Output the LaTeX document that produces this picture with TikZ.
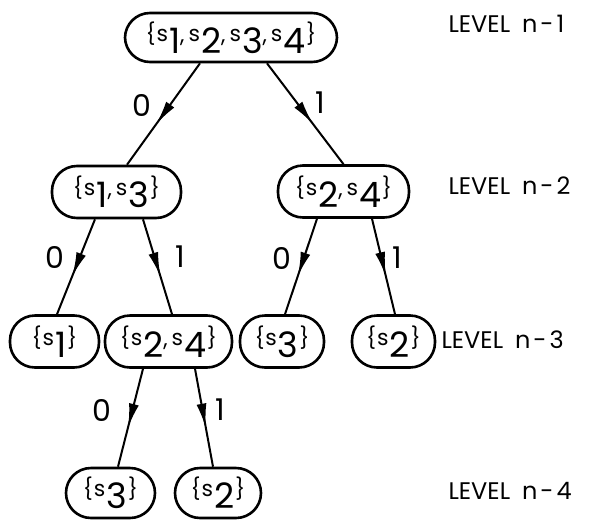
\documentclass[tikz,border=0pt]{standalone}
\usepackage{fontspec}
\setmainfont{Poppins}
\usetikzlibrary{arrows.meta,decorations.markings}
\newcommand\Sv[1]{\raisebox{12pt}{\fontsize{22}{22}\selectfont s}\kern1pt{\fontsize{35}{35}\selectfont #1}}
\newcommand\LB{\raisebox{12pt}{\fontsize{21}{21}\selectfont\{}\kern1pt}
\newcommand\RB{\kern1pt\raisebox{12pt}{\fontsize{21}{21}\selectfont\}}}
\newcommand\Cm{\raisebox{11pt}{\fontsize{22}{22}\selectfont,}\kern4pt}
\newcommand\Lv[1]{LEVEL\hspace{12pt}n\kern3pt-\kern3pt#1}
\begin{document}
\begin{tikzpicture}[x=1pt,y=-1pt,
  pill/.style={draw,line width=2.6pt,rounded corners=25pt,inner sep=0pt,
    minimum height=52pt,text depth=0pt,font=\fontsize{15}{15}\selectfont},
  edge/.style={line width=2pt,postaction={decorate},
    decoration={markings,mark=at position 0.6 with {\arrow{Latex[length=24pt,width=10pt]}}}},
  bit/.style={font=\fontsize{30}{30}\selectfont},
  lvl/.style={font=\fontsize{24}{24}\selectfont,anchor=west}]
\useasboundingbox (0,0) rectangle (592,520);
\node[pill,minimum width=212pt,minimum height=49pt] (r) at (231,37.5) {\LB\Sv{1}\Cm\Sv{2}\Cm\Sv{3}\Cm\Sv{4}\RB};
\node[pill,minimum width=129pt] (a) at (116.5,192) {\LB\Sv{1}\Cm\Sv{3}\RB};
\node[pill,minimum width=131pt] (b) at (343.5,191.5) {\LB\Sv{2}\Cm\Sv{4}\RB};
\node[pill,minimum width=89pt] (c) at (54.5,341.5) {\LB\Sv{1}\RB};
\node[pill,minimum width=127pt] (d) at (168.5,341.5) {\LB\Sv{2}\Cm\Sv{4}\RB};
\node[pill,minimum width=84pt] (e) at (282,341.5) {\LB\Sv{3}\RB};
\node[pill,minimum width=83pt] (f) at (393.5,341.5) {\LB\Sv{2}\RB};
\node[pill,minimum width=89pt,minimum height=50pt] (g) at (110.5,493) {\LB\Sv{3}\RB};
\node[pill,minimum width=86pt,minimum height=50pt] (h) at (218,493) {\LB\Sv{2}\RB};
\draw[edge] ([xshift=-31pt]r.south) -- ([xshift=10.5pt]a.north);
\draw[edge] ([xshift=36pt]r.south) -- (b.north);
\draw[edge] ([xshift=-21.5pt]a.south) -- ([xshift=2.5pt]c.north);
\draw[edge] ([xshift=26.5pt]a.south) -- ([xshift=3.5pt]d.north);
\draw[edge] ([xshift=-26.5pt]b.south) -- ([xshift=3pt]e.north);
\draw[edge] ([xshift=28.5pt]b.south) -- ([xshift=1.5pt]f.north);
\draw[edge] ([xshift=-25.5pt]d.south) -- ([xshift=7.5pt]g.north);
\draw[edge] ([xshift=26.5pt]d.south) -- ([xshift=-5pt]h.north);
\node[bit] (l1) at (142,105) {0};
\node[bit] (l2) at (320,103) {1};
\node[bit] (l3) at (55,257) {0};
\node[bit] (l4) at (180,257) {1};
\node[bit] (l5) at (282,258) {0};
\node[bit] (l6) at (397,258) {1};
\node[bit] (l7) at (102,410) {0};
\node[bit] (l8) at (220,410) {1};
\node[lvl] (v1) at (445,24) {\Lv{1}};
\node[lvl] (v2) at (445,186) {\Lv{2}};
\node[lvl] (v3) at (438,340) {\Lv{3}};
\node[lvl] (v4) at (445,491) {\Lv{4}};
\end{tikzpicture}
\end{document}
